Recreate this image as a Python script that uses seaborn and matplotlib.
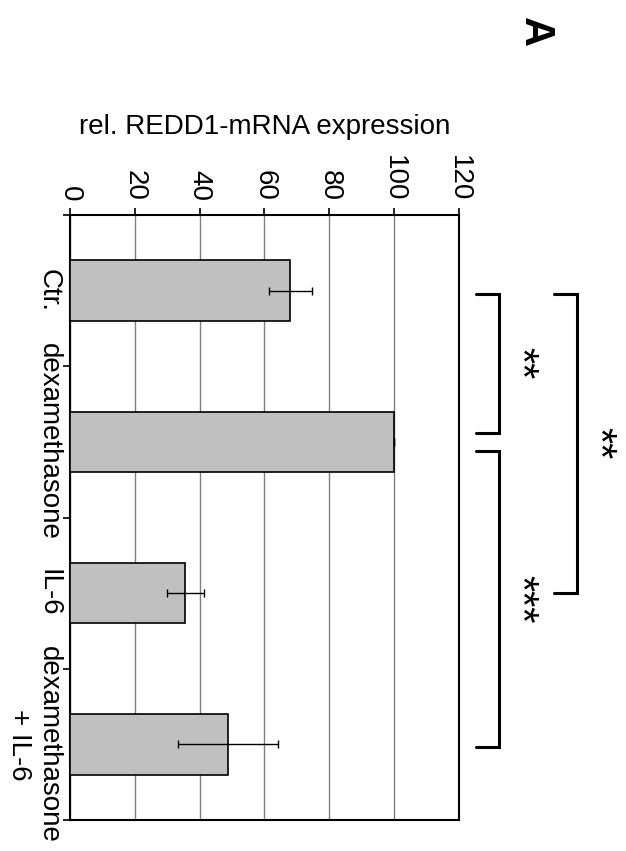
import matplotlib
matplotlib.use('Agg')
import matplotlib.pyplot as plt
import seaborn as sns
import pandas as pd
import numpy as np

# ---- data ----
categories = ['Ctr.', 'dexamethasone', 'IL-6', 'dexamethasone\n+ IL-6']
values = [68.0, 100.0, 35.6, 48.8]
errors = [6.6, 0.0, 5.6, 15.5]
value_ticks = [0, 20, 40, 60, 80, 100, 120]
axis_label = 'rel. REDD1-mRNA expression'
panel_label = 'A'
# significance brackets: (start category, end category, label)
bracket_pairs = [(0, 1), (0, 2), (1, 3)]
bracket_labels = ['**', '**', '***']

# ---- style ----
sns.set_style('white')
plt.rcParams['font.family'] = ['Liberation Sans', 'DejaVu Sans']
plt.rcParams['text.color'] = 'black'
plt.rcParams['axes.labelcolor'] = 'black'
plt.rcParams['xtick.color'] = 'black'
plt.rcParams['ytick.color'] = 'black'

fig = plt.figure(figsize=(6.26, 8.51), dpi=100)
ax = fig.add_axes([0.1118, 0.0364, 0.6214, 0.7109])

df = pd.DataFrame({'condition': categories, 'value': values})
sns.barplot(data=df, x='value', y='condition', orient='h', order=categories,
            color='#C0C0C0', saturation=1, edgecolor='black', linewidth=1.2,
            width=0.4, errorbar=None, ax=ax, zorder=3)

centers = [p.get_y() + p.get_height() / 2 for p in ax.patches]
ax.errorbar(values, centers, xerr=errors, fmt='none', ecolor='black',
            elinewidth=1.0, capsize=3, capthick=1.0, zorder=4)

ax.set_xlim(0, 120)
ax.set_ylim(3.5, -0.5)

# value axis on top, labels rotated
ax.xaxis.tick_top()
ax.set_xticks(value_ticks)
ax.set_xticklabels([str(v) for v in value_ticks], rotation=-90, fontsize=20,
                   color='black')
ax.tick_params(axis='x', which='major', direction='out', length=5, width=1.2,
               pad=5, top=True, bottom=False, colors='black')
ax.xaxis.set_label_position('top')
ax.set_xlabel(axis_label, fontsize=20, labelpad=15, color='black')

# category axis
ax.set_ylabel('')
ax.set_yticks(range(len(categories)))
ax.set_yticklabels(categories, rotation=-90, fontsize=20, ha='right',
                   va='center', multialignment='center', color='black')
ax.tick_params(axis='y', which='major', length=0, pad=6, left=True)
ax.set_yticks(np.arange(-0.5, len(categories), 1.0), minor=True)
ax.tick_params(axis='y', which='minor', direction='out', length=5, width=1.2,
               left=True, colors='black')

ax.grid(axis='x', color='#808080', lw=1.0)
ax.grid(axis='y', visible=False)
ax.set_axisbelow(True)
for s in ax.spines.values():
    s.set_visible(True)
    s.set_color('black')
    s.set_linewidth(1.5)

# significance brackets
bracket_offsets = [(0.02, -0.06), (0.02, 0.0), (0.06, 0.02)]
bracket_levels = [(125.2, 132.3), (149.3, 156.4), (125.2, 132.3)]
label_x = [138.5, 162.8, 138.5]
for (a, b), (o0, o1), (xi, xo), lab, lx in zip(bracket_pairs, bracket_offsets,
                                                 bracket_levels, bracket_labels, label_x):
    y0, y1 = a + o0, b + o1
    ax.plot([xi, xo, xo, xi], [y0, y0, y1, y1], color='black', lw=2.2,
            clip_on=False, solid_joinstyle='miter', zorder=5)
    ax.text(lx, (y0 + y1) / 2, lab, rotation=-90, ha='center', va='center',
            fontsize=30, color='black', clip_on=False)

fig.text(0.855, 0.962, panel_label, rotation=-90, fontsize=30,
         fontweight='bold', ha='center', va='center', color='black')

fig.savefig('out.png', dpi=100)
